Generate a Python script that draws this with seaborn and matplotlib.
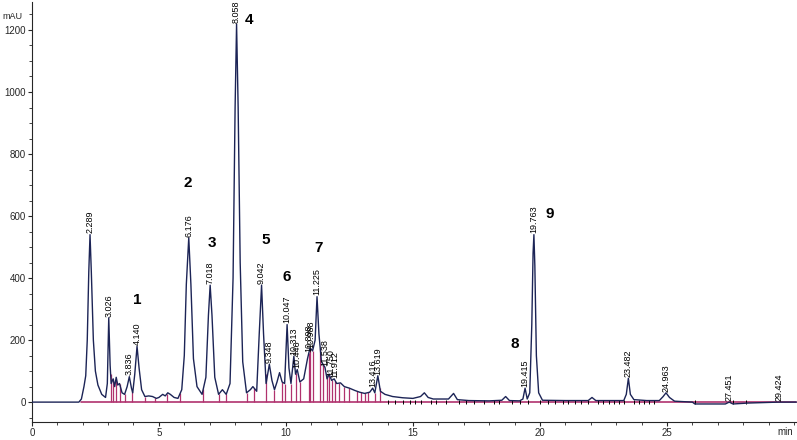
import numpy as np
import matplotlib
matplotlib.use("Agg")
import matplotlib.pyplot as plt
from matplotlib.ticker import MultipleLocator, FixedLocator
import pandas as pd
import seaborn as sns

# Trace (time in min, signal in mAU)
times = [0, 1.85, 1.95, 2.05, 2.12, 2.18, 2.24, 2.289, 2.34, 2.42, 2.5, 2.6, 2.75, 2.9, 2.97,
         3.026, 3.08, 3.12, 3.2, 3.26, 3.32, 3.38, 3.45, 3.55, 3.65, 3.75, 3.836, 3.92, 3.97,
         4.05, 4.140, 4.22, 4.32, 4.45, 4.6, 4.75, 4.9, 5.0, 5.15, 5.25, 5.35, 5.45, 5.6, 5.75,
         5.9, 6.0, 6.08, 6.176, 6.26, 6.36, 6.5, 6.7, 6.85, 6.95, 7.018, 7.09, 7.2, 7.35, 7.5,
         7.65, 7.8, 7.92, 8.0, 8.058, 8.12, 8.2, 8.3, 8.45, 8.6, 8.7, 8.85, 8.95, 9.042, 9.12,
         9.22, 9.348, 9.45, 9.55, 9.65, 9.75, 9.85, 9.95, 10.047, 10.12, 10.2, 10.313, 10.38,
         10.446, 10.55, 10.7, 10.85, 10.95, 11.05, 11.15, 11.225, 11.3, 11.4, 11.538, 11.62,
         11.7, 11.8, 11.9, 12.0, 12.15, 12.3, 12.5, 12.7, 12.9, 13.1, 13.3, 13.416, 13.5,
         13.619, 13.72, 13.9, 14.2, 14.6, 15.0, 15.3, 15.45, 15.6, 15.8, 16.4, 16.6, 16.75,
         17.2, 18.0, 18.5, 18.65, 18.8, 19.2, 19.33, 19.415, 19.5, 19.6, 19.68, 19.73, 19.763,
         19.8, 19.86, 19.95, 20.1, 21.0, 21.9, 22.05, 22.2, 22.6, 23.3, 23.4, 23.482, 23.56,
         23.7, 24.2, 24.7, 24.85, 24.963, 25.1, 25.3, 26.0, 26.1, 27.3, 27.45, 27.6, 28.2,
         29.4, 30.1]
signal = [0, 0, 10, 50, 85, 200, 420, 540, 420, 200, 100, 55, 25, 15, 60,
          272, 120, 60, 75, 50, 80, 55, 60, 30, 25, 50, 82, 45, 30,
          90, 180, 110, 40, 18, 20, 18, 12, 15, 25, 20, 30, 25, 15, 12,
          40, 150, 380, 530, 380, 140, 50, 25, 80, 280, 377, 280, 80, 25, 40,
          25, 60, 400, 950, 1219, 950, 450, 130, 30, 40, 50, 35, 220, 377, 220,
          60, 122, 70, 40, 65, 95, 65, 60, 250, 110, 60, 148, 90,
          105, 65, 75, 140, 175, 165, 200, 340, 220, 130, 112, 75,
          90, 70, 75, 60, 62, 50, 45, 38, 32, 28, 32, 45, 30,
          85, 35, 25, 18, 14, 12, 18, 30, 15, 10, 10, 28, 8,
          5, 4, 6, 18, 5, 4, 10, 45, 10, 30, 250, 480, 540,
          440, 150, 30, 6, 5, 5, 15, 5, 5, 5, 25, 77, 25,
          8, 5, 5, 18, 30, 15, 3, 0, -6, -6, 0, -6, -3,
          0, 0]

# Retention time labels printed above peaks
peak_labels = ["2.289", "3.026", "3.836", "4.140", "6.176", "7.018", "8.058", "9.042",
               "9.348", "10.047", "10.313", "10.446", "10.898", "10.988", "11.225",
               "11.538", "11.750", "11.912", "13.416", "13.619", "19.415", "19.763",
               "23.482", "24.963", "27.451", "29.424"]

# Compound numbers: (label, time, mAU)
compound_ids = ["1", "2", "3", "4", "5", "6", "7", "8", "9"]
compound_t = [4.13, 6.14, 7.09, 8.54, 9.21, 10.04, 11.3, 19.0, 20.4]
compound_y = [329, 706, 513, 1232, 523, 403, 497, 187, 606]

# Integration drop lines (magenta) and peak start/end marks (black)
drop_t = [3.1, 3.2, 3.3, 3.45, 3.65, 3.95, 4.45, 4.85, 5.3, 5.85, 6.75, 7.35, 7.65, 8.45,
          8.75, 9.2, 9.55, 9.85, 9.95, 10.2, 10.4, 10.55, 10.9, 10.95, 11.05, 11.35, 11.45,
          11.6, 11.7, 11.8, 11.95, 12.1, 12.3, 12.5, 12.8, 12.95, 13.1, 13.25, 13.5, 13.7]
mark_t = [14.0, 14.3, 14.6, 14.9, 15.1, 15.3, 15.7, 15.9, 16.3, 16.8, 17.1, 17.4, 17.8,
          18.2, 18.4, 18.9, 19.2, 19.55, 20.0, 20.3, 20.6, 20.9, 21.1, 21.4, 21.6, 21.9,
          22.3, 22.5, 22.7, 22.9, 23.1, 23.3, 23.7, 23.9, 24.1, 24.3, 24.5, 26.1, 27.6, 28.1]

x_ticks = [0, 5, 10, 15, 20, 25]

trace_color = "#1c2456"
base_color = "#b0326e"

df = pd.DataFrame({"time": times, "mAU": signal})

sns.set_style("ticks")
plt.rcParams["font.family"] = ["Liberation Sans", "DejaVu Sans"]

fig = plt.figure(figsize=(7.97, 4.40), dpi=100)
ax = fig.add_axes([0.040, 0.041, 0.96, 0.955])

# baseline + drop lines
ax.plot([1.95, 30.1], [0, 0], color=base_color, lw=1.2, zorder=1)
drop_y = np.interp(drop_t, times, signal)
ax.vlines(drop_t, 0, drop_y, color=base_color, lw=0.9, zorder=1)
ax.vlines(mark_t, -7, 7, color="black", lw=0.7, zorder=2)

sns.lineplot(data=df, x="time", y="mAU", estimator=None, sort=False,
             color=trace_color, lw=1.0, ax=ax, zorder=3)

# retention time labels
for lab in peak_labels:
    t = float(lab)
    y = np.interp(t, times, signal)
    ax.text(t, y + 4, lab, rotation=90, ha="center", va="bottom",
            fontsize=6.5, color="black")

for lab, t, y in zip(compound_ids, compound_t, compound_y):
    ax.text(t, y, lab, ha="center", va="center", fontsize=11,
            fontweight="bold", color="black")

ax.set_xlim(0, 30.12)
ax.set_ylim(-64, 1291)
ax.xaxis.set_major_locator(FixedLocator(x_ticks))
ax.xaxis.set_minor_locator(MultipleLocator(1))
ax.yaxis.set_major_locator(MultipleLocator(200))
ax.yaxis.set_minor_locator(MultipleLocator(50))
ax.tick_params(axis="both", which="major", labelsize=7, length=3, width=0.8, pad=1.5)
ax.tick_params(axis="both", which="minor", length=2, width=0.6)
ax.set_xlabel("")
ax.set_ylabel("")
sns.despine(ax=ax)
ax.spines["left"].set_linewidth(0.8)
ax.spines["bottom"].set_linewidth(0.8)

fig.text(0.003, 0.962, "mAU", fontsize=6.5, ha="left", va="center")
fig.text(0.995, 0.018, "min", fontsize=7, ha="right", va="center")

fig.savefig("out.png", dpi=100)
